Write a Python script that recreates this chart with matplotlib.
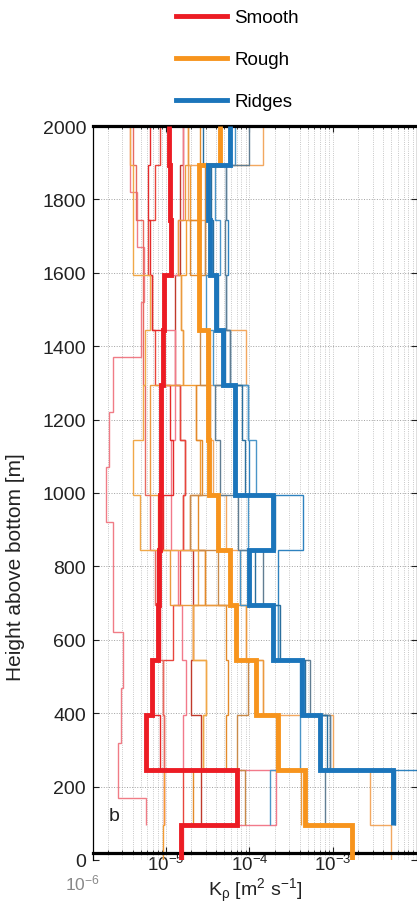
import numpy as np
import matplotlib
matplotlib.use("Agg")
import matplotlib.pyplot as plt
from matplotlib.lines import Line2D
import matplotlib.transforms as mtransforms

plt.rcParams['font.family'] = ['Liberation Sans', 'DejaVu Sans']
plt.rcParams['mathtext.fontset'] = 'custom'
plt.rcParams['mathtext.rm'] = 'Liberation Sans'
plt.rcParams['mathtext.it'] = 'Liberation Sans:italic'
plt.rcParams['mathtext.default'] = 'regular'

nan = np.nan

# ---------------- data ----------------
# height bin edges [m]
edges_main = [0, 95, 245, 395, 545, 695, 845, 995, 1145, 1295, 1445, 1595, 1745, 1895, 2000]
edges_alt = [95, 170, 320, 470, 620, 770, 920, 1070, 1220, 1370, 1520, 1670, 1820, 1970, 2000]

# mean profiles (K_rho, m^2/s)
smooth_mean = [1.5e-5, 7.0e-5, 5.7e-6, 6.9e-6, 8.0e-6, 8.3e-6, 8.5e-6, 8.8e-6, 8.8e-6, 9.2e-6, 9.5e-6, 1.15e-5, 1.12e-5, 1.1e-5]
rough_mean = [1.7e-3, 4.6e-4, 2.2e-4, 1.2e-4, 6.9e-5, 5.8e-5, 4.2e-5, 3.3e-5, 3.2e-5, 3.2e-5, 2.5e-5, 2.5e-5, 2.5e-5, 4.4e-5]
ridges_mean = [nan, 5.2e-3, 6.9e-4, 4.2e-4, 1.9e-4, 1.0e-4, 1.9e-4, 6.7e-5, 6.7e-5, 4.8e-5, 4.0e-5, 3.4e-5, 3.2e-5, 5.8e-5]

# individual profiles: smooth
smooth_1 = [5.8e-6, 2.7e-6, 2.9e-6, 3.1e-6, 2.3e-6, 2.3e-6, 1.9e-6, 2.1e-6, 2.3e-6, 5.1e-6, 5.5e-6, 4.5e-6, 3.7e-6, 3.7e-6]  # on edges_alt
smooth_2 = [nan, 2.6e-5, 2.6e-5, 2.0e-5, 2.1e-5, 2.1e-5, 1.6e-5, 1.7e-5, 1.47e-5, 1.28e-5, 1.28e-5, 1.47e-5, 1.47e-5, 1.6e-5]
smooth_3 = [nan, 1.6e-5, 9.4e-6, 9.2e-6, 1.2e-5, 1.47e-5, 1.6e-5, 1.7e-5, 1.47e-5, 7.4e-6, 6.9e-6, 6.1e-6, 7.4e-6, 8.5e-6]
smooth_4 = [1.6e-5, 2.1e-4, 1.6e-5, 1.75e-5, 1.55e-5, 1.38e-5, 1.15e-5, 1.15e-5, 1.3e-5, 1.28e-5, 9.7e-6, 1.38e-5, 1.6e-5, 1.6e-5]
smooth_5 = [nan, 9.4e-6, 8.5e-6, 6.8e-6, 8.5e-6, 7.8e-6, 9.2e-6, 1.2e-5, 1.12e-5, 9.2e-6, 6.9e-6, 6.4e-6, 6.1e-6, 6.4e-6]
smooth_6 = [nan, nan, 9.4e-6, 9.2e-6, 8.0e-6, 7.4e-6, 6.4e-6, 5.6e-6, 5.6e-6, 5.3e-6, 5.3e-6, 5.3e-6, 4.4e-6, 4.0e-6]

# individual profiles: rough
rough_1 = [9.2e-6, 9.4e-6, 2.8e-5, 3.0e-5, 2.1e-5, 2.9e-5, 1.94e-5, 2.55e-5, 2.3e-5, 1.6e-5, 1.5e-5, 1.75e-5, 1.94e-5, 1.85e-5]
rough_2 = [5.0e-3, 2.8e-3, 1.0e-3, 1.45e-4, 9.1e-5, 7.7e-5, 5.2e-5, 3.7e-5, 3.4e-5, 9.1e-5, 3.9e-5, 2.9e-5, 1.85e-5, 1.45e-4]
rough_3 = [nan, 2.1e-5, 5.2e-5, 5.5e-5, 5.2e-5, 2.9e-5, 2.4e-5, 2.7e-5, 2.3e-5, 3.4e-5, 2.55e-5, 1.94e-5, 2.55e-5, 2.55e-5]
rough_4 = [nan, 8.8e-5, 7.0e-5, 9.6e-5, 7.0e-5, 4.2e-5, 1.94e-5, 3.4e-5, 3.4e-5, 2.55e-5, 2.55e-5, 2.9e-5, 2.9e-5, 4.4e-5]
rough_5 = [nan, nan, 2.8e-5, 3.0e-5, 2.1e-5, 2.4e-5, 4.9e-6, 4.0e-6, 5.3e-6, 5.6e-6, 6.4e-6, 4.0e-6, 4.0e-6, 3.7e-6]
rough_6 = [nan, 4.1e-4, 2.1e-4, 1.45e-4, 9.1e-5, 1.12e-5, 8.0e-6, 6.4e-6, 6.4e-6, 1.6e-5, 1.5e-5, 1.38e-5, 1.7e-5, 1.85e-5]

# individual profiles: ridges
ridges_1 = [nan, 1.3e-2, 9.2e-4, 4.0e-4, 2.2e-4, 2.2e-4, 4.4e-4, 1.0e-4, 9.6e-5, 5.8e-5, 5.2e-5, 5.5e-5, 5.2e-5, 5.8e-5]
ridges_2 = [nan, 1.76e-4, 4.0e-4, 4.1e-4, 2.2e-4, 7.7e-5, 9.6e-5, 1.2e-4, 9.6e-5, 3.7e-5, 3.0e-5, 4.4e-5, 3.9e-5, 6.8e-5]
ridges_3 = [nan, 8.0e-4, 9.2e-4, 5.3e-4, 1.9e-4, 1.45e-4, 7.3e-5, 4.4e-5, 3.9e-5, 5.8e-5, 5.2e-5, 5.1e-5, 5.2e-5, 1.0e-4]
ridges_4 = [nan, 5.5e-3, 8.6e-4, 4.6e-4, 2.3e-4, 1.16e-4, 2.0e-4, 8.8e-5, 8.1e-5, 5.1e-5, 4.2e-5, 3.7e-5, 3.5e-5, 2.8e-5]

labels = ['Smooth', 'Rough', 'Ridges']
y_ticks = [0, 200, 400, 600, 800, 1000, 1200, 1400, 1600, 1800, 2000]
x_ticks = [1e-5, 1e-4, 1e-3]

# ---------------- styles ----------------
c_smooth = '#ec1c24'
c_rough = '#f7941d'
c_ridges = '#1b75bb'

thin = [
    (smooth_1, edges_alt, '#f07c86'),
    (smooth_2, edges_main, '#c0392b'),
    (smooth_3, edges_main, '#e8453c'),
    (smooth_4, edges_main, '#f27a8a'),
    (smooth_5, edges_main, '#e52a2a'),
    (smooth_6, edges_main, '#e86a60'),
    (rough_1, edges_main, '#f39c33'),
    (rough_2, edges_main, '#f2a860'),
    (rough_3, edges_main, '#e38a2a'),
    (rough_4, edges_main, '#c98a4a'),
    (rough_5, edges_main, '#f0a848'),
    (rough_6, edges_main, '#eb9a3e'),
    (ridges_1, edges_main, '#2e82bf'),
    (ridges_2, edges_main, '#4a95c8'),
    (ridges_3, edges_main, '#607d92'),
    (ridges_4, edges_main, '#2a6f9e'),
]
thick = [
    (smooth_mean, edges_main, c_smooth),
    (rough_mean, edges_main, c_rough),
    (ridges_mean, edges_main, c_ridges),
]


def draw(ax, vals, edges, color, lw, z):
    v = np.asarray(vals, float)
    e = np.asarray(edges, float)
    ok = np.where(~np.isnan(v))[0]
    i0, i1 = ok[0], ok[-1] + 1
    ax.stairs(v[i0:i1], e[i0:i1 + 1], orientation='horizontal', baseline=None,
              color=color, lw=lw, zorder=z)


fig = plt.figure(figsize=(4.17, 9.12), dpi=100)
ax = fig.add_axes([93 / 417, 1 - 861 / 912, (416.5 - 93) / 417, (861 - 127) / 912])
ax.set_xscale('log')

for vals, edges, col in thin:
    draw(ax, vals, edges, col, 1.0, 2)
for vals, edges, col in thick:
    draw(ax, vals, edges, col, 3.5, 3)

ax.set_xlim(1.34e-6, 1e-2)
ax.set_ylim(0, 2000)
ax.set_yticks(y_ticks)
ax.set_xticks(x_ticks)

ax.grid(True, which='major', axis='y', ls=':', color='#a0a0a0', lw=0.7, zorder=0)
ax.grid(True, which='both', axis='x', ls=':', color='#b5b5b5', lw=0.6, zorder=0)
ax.set_axisbelow(True)

ax.spines['bottom'].set_position(('data', 20))
ax.spines['bottom'].set_linewidth(2.3)
ax.spines['top'].set_linewidth(2.3)
ax.spines['left'].set_linewidth(0.9)
ax.spines['right'].set_linewidth(0.9)
ax.tick_params(which='both', direction='in', top=True, right=True, colors='#222222')
ax.tick_params(which='major', length=4, width=0.8)
ax.tick_params(which='minor', length=2.5, width=0.6)
ax.tick_params(axis='y', labelsize=14, pad=5)
ax.tick_params(axis='x', labelsize=13.5, pad=1)

# 10^-6 label sits left of the axis box, just under the "0" tick label
ax.text(1e-6, -0.0165, r'$\mathdefault{10^{-6}}$', transform=mtransforms.blended_transform_factory(ax.transData, ax.transAxes),
        ha='center', va='top', fontsize=12.5, color='#888888', clip_on=False)

ax.set_xlabel(r'K$_{\rho}$ [m$^{2}$ s$^{-1}$]', fontsize=14, labelpad=1, color='#222222')
ax.set_ylabel('Height above bottom [m]', fontsize=15, color='#222222')
ax.yaxis.set_label_coords(-0.21, 0.40)

ax.text(2.38e-6, 120, 'b', fontsize=14, ha='center', va='center', color='#222222', zorder=5)

handles = [Line2D([], [], color=c, lw=3.5) for c in (c_smooth, c_rough, c_ridges)]
fig.legend(handles, labels, loc='upper left', bbox_to_anchor=(176 / 417, 1 - 10 / 912),
           frameon=False, fontsize=13.5, handlelength=2.7, handletextpad=0.4,
           labelspacing=1.33, borderpad=0, borderaxespad=0)

fig.savefig('out.png', dpi=100)
